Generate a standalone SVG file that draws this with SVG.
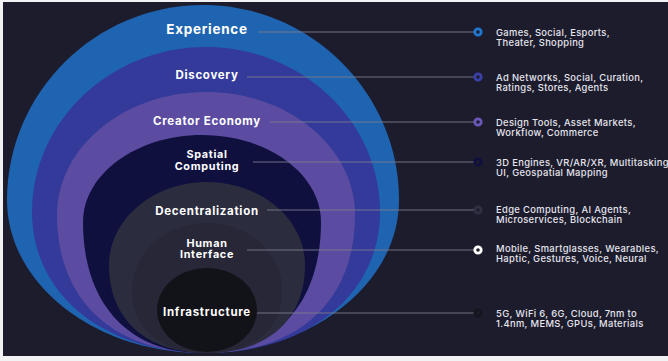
<svg xmlns="http://www.w3.org/2000/svg" width="668" height="361" viewBox="0 0 668 361">
<defs>
<style>
.lbl{font-family:Inter,"Open Sans","Liberation Sans",sans-serif;font-weight:700;fill:#ffffff;text-anchor:middle;font-size:11.5px;letter-spacing:0.7px}
.lbl2{font-size:10.8px}
.desc{font-family:Inter,"Open Sans","Liberation Sans",sans-serif;font-weight:500;fill:#e6e6ee;font-size:9.4px;letter-spacing:0.35px}
.conn{stroke:#7a7a8c;stroke-width:0.9;fill:none}
.dot{stroke-width:2.8;fill:#1d1c2d}
</style>
</defs>
<rect x="0" y="0" width="668" height="361" fill="#f2f2f4"/>
<rect x="3" y="2" width="665" height="354" fill="#1d1c2d"/>
<g id="experience">
<path d="M 203,5 C 310.8,5 399,92.75 399,200 C 399,284.2 310.8,353 203,353 C 95.2,353 7,284.2 7,200 C 7,92.75 95.2,5 203,5 Z" fill="#1f64b0"/>
<text class="lbl" x="207" y="34" style="font-size:13.5px">Experience</text>
</g>
<g id="discovery">
<path d="M 206,47 C 301.7,47 380,121.25 380,212 C 380,295 307,353 206,353 C 105,353 32,295 32,212 C 32,121.25 110.3,47 206,47 Z" fill="#343a9a"/>
<text class="lbl" x="207" y="79">Discovery</text>
</g>
<g id="creator-economy">
<path d="M 206,92 C 288,92 355,147.35 355,215 C 355,300.6 298.4,353 206,353 C 113.6,353 57,300.6 57,215 C 57,147.35 124,92 206,92 Z" fill="#5b4ca2"/>
<text class="lbl" x="207" y="125">Creator Economy</text>
</g>
<g id="spatial-computing">
<path d="M 202,135 C 267.5,135 321,174.1 321,222 C 321,303.2 275.8,353 202,353 C 128.2,353 83,303.2 83,222 C 83,174.1 136.5,135 202,135 Z" fill="#10103f"/>
<text class="lbl lbl2" x="207" y="158">Spatial</text>
<text class="lbl lbl2" x="207" y="169.5">Computing</text>
</g>
<g id="decentralization">
<path d="M 207,182 C 260.9,182 305,219.3 305,265 C 305,319.6 267.8,353 207,353 C 146.2,353 109,319.6 109,265 C 109,219.3 153.1,182 207,182 Z" fill="#2b2c3e"/>
<text class="lbl" x="207" y="214.5">Decentralization</text>
</g>
<g id="human-interface">
<path d="M 207,223 C 248.3,223 282,253.1 282,290 C 282,329.1 253.5,353 207,353 C 160.5,353 132,329.1 132,290 C 132,253.1 165.7,223 207,223 Z" fill="#272737"/>
<text class="lbl lbl2" x="207" y="246.5">Human</text>
<text class="lbl lbl2" x="207" y="258">Interface</text>
</g>
<g id="infrastructure">
<ellipse cx="207" cy="310" rx="50" ry="42" fill="#121219"/>
<text class="lbl" x="207" y="316">Infrastructure</text>
</g>
<g id="connectors">
<line class="conn" x1="258" y1="32" x2="474" y2="32"/>
<line class="conn" x1="247" y1="77" x2="474" y2="77"/>
<line class="conn" x1="270" y1="122" x2="474" y2="122"/>
<line class="conn" x1="253" y1="162" x2="474" y2="162"/>
<line class="conn" x1="267" y1="210" x2="474" y2="210"/>
<line class="conn" x1="247" y1="250" x2="474" y2="250"/>
<line class="conn" x1="257" y1="313" x2="474" y2="313"/>
<circle class="dot" cx="478" cy="32" r="3.2" stroke="#1f78d0"/>
<circle class="dot" cx="478" cy="77" r="3.2" stroke="#3b40a8"/>
<circle class="dot" cx="478" cy="122" r="3.2" stroke="#6a57b8"/>
<circle class="dot" cx="478" cy="162" r="3.2" stroke="#10103f"/>
<circle class="dot" cx="478" cy="210" r="3.2" stroke="#2f3042"/>
<circle class="dot" cx="478" cy="250" r="3.2" stroke="#ffffff"/>
<circle class="dot" cx="478" cy="313" r="3.2" stroke="#15151d"/>
</g>
<g id="descriptions">
<text class="desc" x="496" y="36">Games, Social, Esports,</text>
<text class="desc" x="496" y="46">Theater, Shopping</text>
<text class="desc" x="496" y="80.5">Ad Networks, Social, Curation,</text>
<text class="desc" x="496" y="90.5">Ratings, Stores, Agents</text>
<text class="desc" x="496" y="125.5">Design Tools, Asset Markets,</text>
<text class="desc" x="496" y="135.5">Workflow, Commerce</text>
<text class="desc" x="496" y="166">3D Engines, VR/AR/XR, Multitasking</text>
<text class="desc" x="496" y="176">UI, Geospatial Mapping</text>
<text class="desc" x="496" y="213">Edge Computing, AI Agents,</text>
<text class="desc" x="496" y="223">Microservices, Blockchain</text>
<text class="desc" x="496" y="252">Mobile, Smartglasses, Wearables,</text>
<text class="desc" x="496" y="262">Haptic, Gestures, Voice, Neural</text>
<text class="desc" x="496" y="317">5G, WiFi 6, 6G, Cloud, 7nm to</text>
<text class="desc" x="496" y="327">1.4nm, MEMS, GPUs, Materials</text>
</g>
</svg>
